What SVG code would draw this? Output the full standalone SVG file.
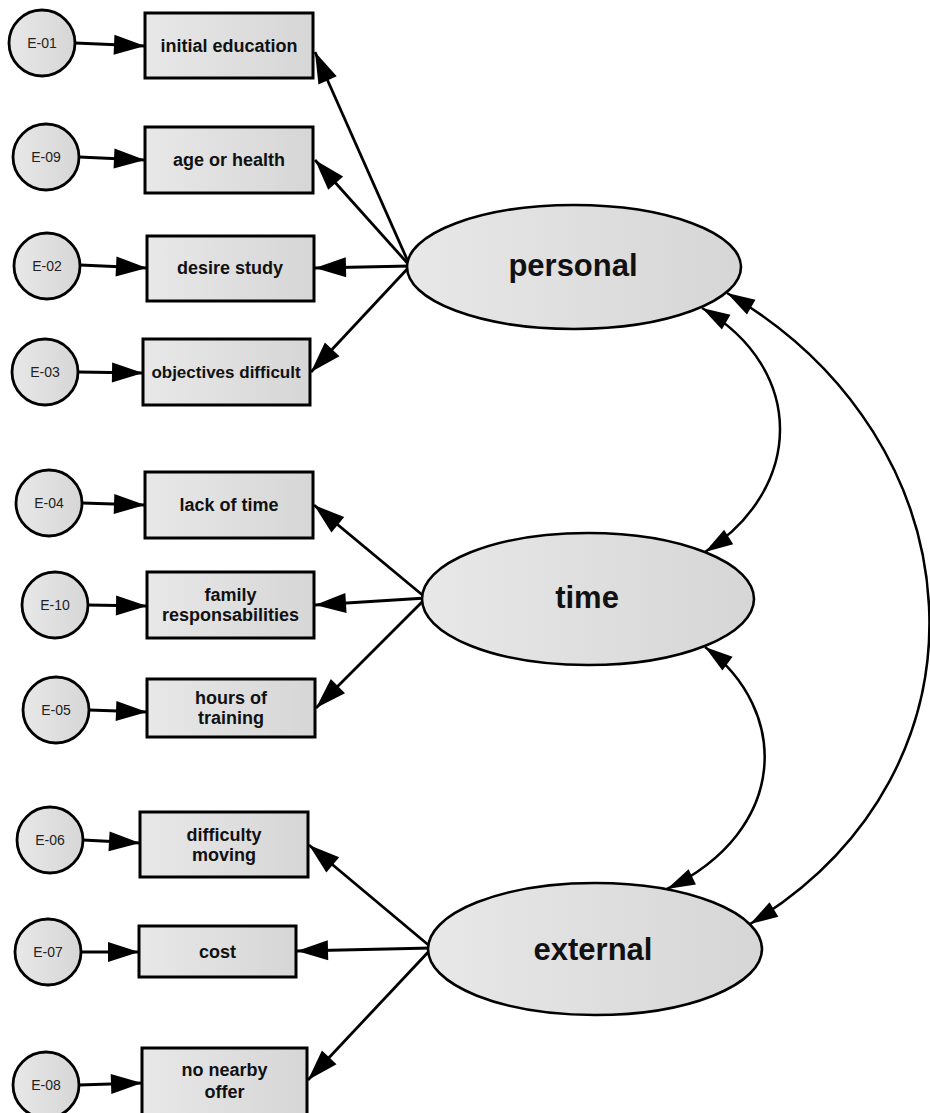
<svg xmlns="http://www.w3.org/2000/svg" width="930" height="1113" viewBox="0 0 930 1113">
  <defs>
    <linearGradient id="fillGrad" x1="0" y1="0" x2="1" y2="0">
      <stop offset="0" stop-color="#e8e8e8"/>
      <stop offset="1" stop-color="#d6d6d6"/>
    </linearGradient>
    <marker id="arrow" markerUnits="userSpaceOnUse" markerWidth="34" markerHeight="22" refX="31" refY="10" orient="auto-start-reverse" overflow="visible">
      <path d="M0,0 L31,10 L0,20 z" fill="#000"/>
    </marker>
    <marker id="arrowSm" markerUnits="userSpaceOnUse" markerWidth="30" markerHeight="20" refX="28" refY="8.5" orient="auto-start-reverse" overflow="visible">
      <path d="M0,0 L28,8.5 L0,17 z" fill="#000"/>
    </marker>
  </defs>
  <style>
    .err circle { fill: url(#fillGrad); stroke: #000; stroke-width: 2.8; }
    .err text { font-family: "Liberation Sans", Arial, sans-serif; font-size: 14px; fill: #222; text-anchor: middle; }
    .obs rect { fill: url(#fillGrad); stroke: #000; stroke-width: 3; }
    .obs text { font-family: "Liberation Sans", Arial, sans-serif; font-weight: bold; font-size: 18px; fill: #111; text-anchor: middle; }
    .lat ellipse { fill: url(#fillGrad); stroke: #000; stroke-width: 2.6; }
    .lat text { font-family: "Liberation Sans", Arial, sans-serif; font-weight: bold; font-size: 31px; fill: #111; text-anchor: middle; }
    .edge { fill: none; stroke: #000; stroke-width: 2.8; marker-end: url(#arrow); }
    .cov { fill: none; stroke: #000; stroke-width: 2.5; marker-start: url(#arrowSm); marker-end: url(#arrowSm); }
  </style>

  <!-- connectors -->
  <g id="connectors">
    <!-- error terms to indicators -->
    <line class="edge" x1="75" y1="43" x2="145" y2="46"/>
    <line class="edge" x1="79" y1="157" x2="145" y2="160"/>
    <line class="edge" x1="80" y1="265" x2="147" y2="268"/>
    <line class="edge" x1="78" y1="372" x2="143" y2="373"/>
    <line class="edge" x1="82" y1="503" x2="145" y2="505"/>
    <line class="edge" x1="88" y1="605" x2="147" y2="606"/>
    <line class="edge" x1="89" y1="710" x2="147" y2="712"/>
    <line class="edge" x1="83" y1="840" x2="140" y2="843"/>
    <line class="edge" x1="81" y1="952" x2="139" y2="952"/>
    <line class="edge" x1="79" y1="1085" x2="142" y2="1083"/>
    <!-- personal loadings -->
    <line class="edge" x1="410" y1="266" x2="315" y2="52"/>
    <line class="edge" x1="410" y1="266" x2="315" y2="160"/>
    <line class="edge" x1="410" y1="266" x2="315" y2="268"/>
    <line class="edge" x1="410" y1="266" x2="311" y2="372"/>
    <!-- time loadings -->
    <line class="edge" x1="426" y1="598" x2="314" y2="505"/>
    <line class="edge" x1="426" y1="598" x2="315" y2="605"/>
    <line class="edge" x1="426" y1="598" x2="316" y2="708"/>
    <!-- external loadings -->
    <line class="edge" x1="432" y1="948" x2="309" y2="845"/>
    <line class="edge" x1="432" y1="948" x2="297" y2="951"/>
    <line class="edge" x1="432" y1="948" x2="308" y2="1080"/>
    <!-- covariances between factors -->
    <path class="cov" d="M702,308 C808,370 803,490 705,552"/>
    <path class="cov" d="M705,647 C790,710 790,830 667,889"/>
    <path class="cov" d="M727,293 C980,440 1005,770 750,924"/>
  </g>

  <!-- error terms -->
  <g id="E-01" class="err"><circle cx="42" cy="43" r="33"/><text x="42" y="48">E-01</text></g>
  <g id="E-09" class="err"><circle cx="46" cy="157" r="33"/><text x="46" y="162">E-09</text></g>
  <g id="E-02" class="err"><circle cx="47" cy="266" r="33"/><text x="47" y="271">E-02</text></g>
  <g id="E-03" class="err"><circle cx="45" cy="372" r="33"/><text x="45" y="377">E-03</text></g>
  <g id="E-04" class="err"><circle cx="49" cy="503" r="33"/><text x="49" y="508">E-04</text></g>
  <g id="E-10" class="err"><circle cx="55" cy="605" r="33"/><text x="55" y="610">E-10</text></g>
  <g id="E-05" class="err"><circle cx="56" cy="710" r="33"/><text x="56" y="715">E-05</text></g>
  <g id="E-06" class="err"><circle cx="50" cy="840" r="33"/><text x="50" y="845">E-06</text></g>
  <g id="E-07" class="err"><circle cx="48" cy="952" r="33"/><text x="48" y="957">E-07</text></g>
  <g id="E-08" class="err"><circle cx="46" cy="1085" r="33"/><text x="46" y="1090">E-08</text></g>

  <!-- observed indicators -->
  <g id="initial-education" class="obs"><rect x="145" y="13" width="168" height="65"/><text x="229" y="52">initial education</text></g>
  <g id="age-or-health" class="obs"><rect x="145" y="127" width="168" height="66"/><text x="229" y="166">age or health</text></g>
  <g id="desire-study" class="obs"><rect x="147" y="236" width="167" height="65"/><text x="230" y="274">desire study</text></g>
  <g id="objectives-difficult" class="obs"><rect x="143" y="339" width="167" height="66"/><text x="226" y="378" style="font-size:17px">objectives difficult</text></g>
  <g id="lack-of-time" class="obs"><rect x="145" y="472" width="168" height="66"/><text x="229" y="511">lack of time</text></g>
  <g id="family-responsabilities" class="obs"><rect x="147" y="572" width="167" height="66"/><text x="230.5" y="601">family</text><text x="230.5" y="621">responsabilities</text></g>
  <g id="hours-of-training" class="obs"><rect x="147" y="679" width="168" height="58"/><text x="231" y="704">hours of</text><text x="231" y="724">training</text></g>
  <g id="difficulty-moving" class="obs"><rect x="140" y="812" width="168" height="65"/><text x="224" y="841">difficulty</text><text x="224" y="861">moving</text></g>
  <g id="cost" class="obs"><rect x="139" y="926" width="157" height="51"/><text x="217.5" y="958">cost</text></g>
  <g id="no-nearby-offer" class="obs"><rect x="142" y="1048" width="165" height="70"/><text x="224.5" y="1076">no nearby</text><text x="224.5" y="1098">offer</text></g>

  <!-- latent factors -->
  <g id="personal" class="lat"><ellipse cx="574" cy="267" rx="167" ry="62"/><text x="573" y="276">personal</text></g>
  <g id="time" class="lat"><ellipse cx="588" cy="599" rx="166" ry="66"/><text x="587" y="608">time</text></g>
  <g id="external" class="lat"><ellipse cx="595" cy="949" rx="167" ry="66"/><text x="593" y="960">external</text></g>
</svg>
